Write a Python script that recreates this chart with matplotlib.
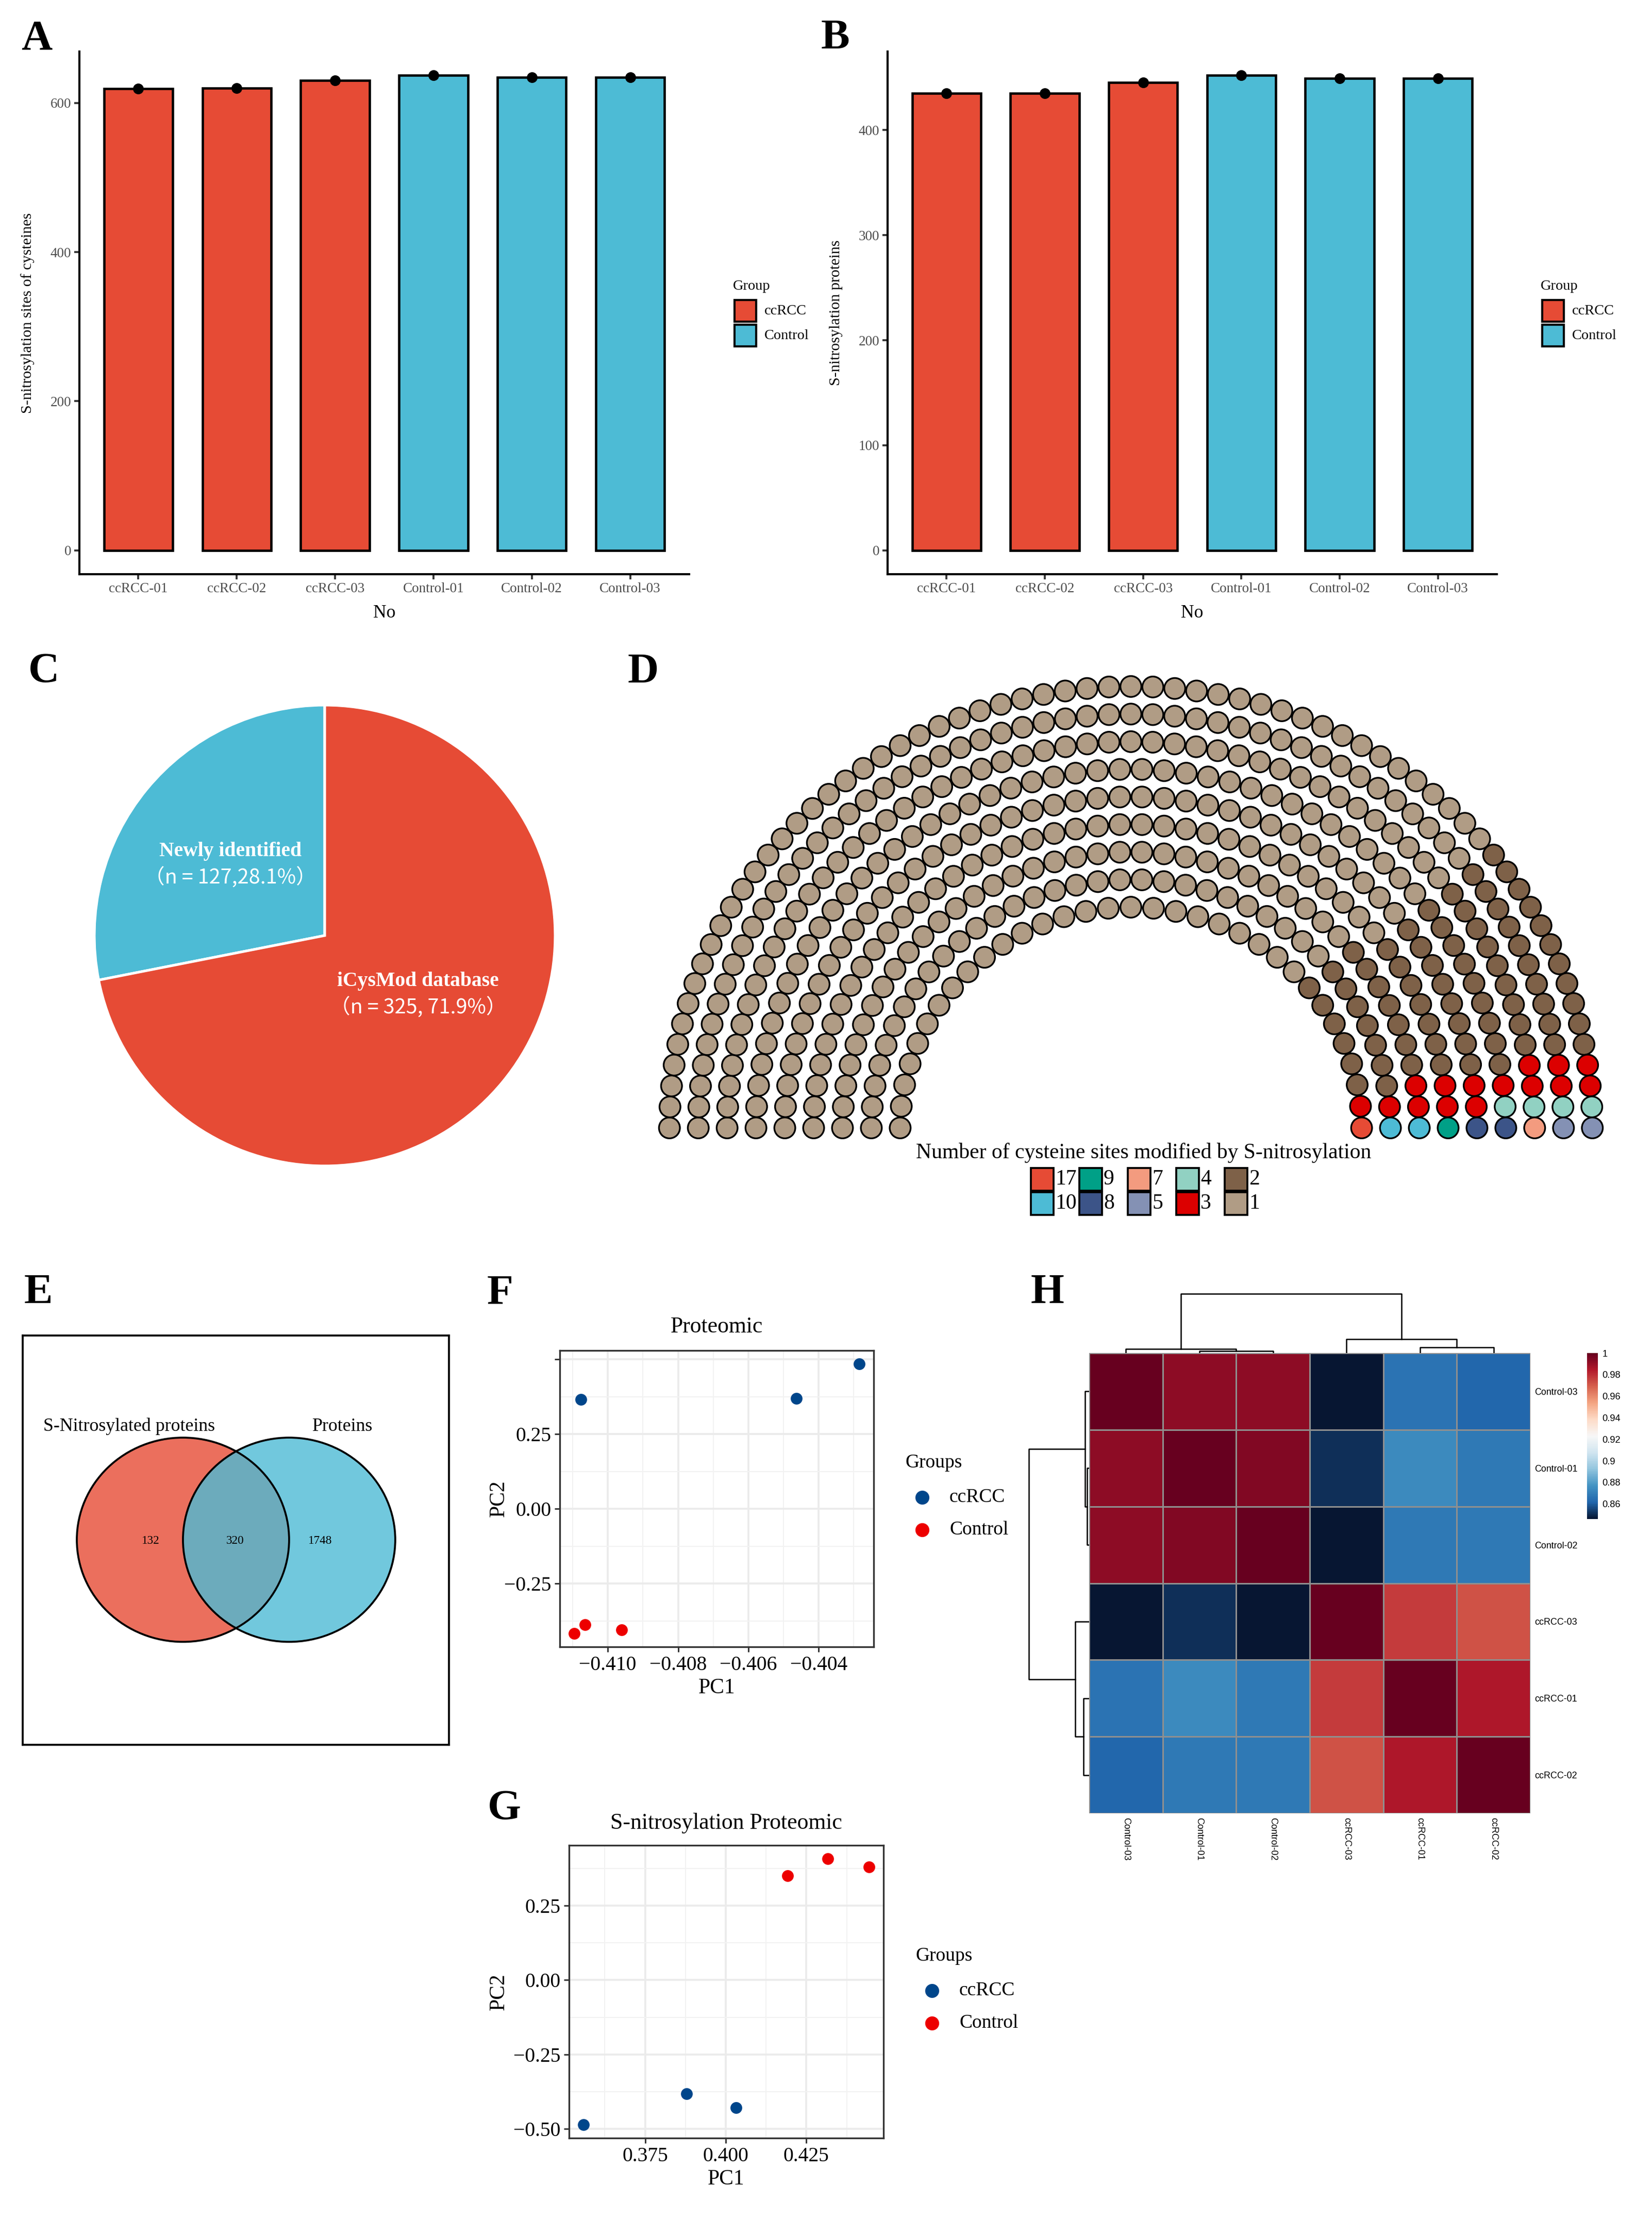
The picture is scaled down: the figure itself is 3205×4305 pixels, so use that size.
#!/usr/bin/python3
# coding: utf-8

# ---- Description ----
""" S-nitrosylation proteomics overview figure (panels A-H) """

# ---- Imports ----
import numpy as np
import matplotlib.pyplot as plt
from matplotlib.patches import Ellipse, Rectangle
from matplotlib.lines import Line2D
from matplotlib.colors import LinearSegmentedColormap

plt.rcParams['font.family'] = ['Liberation Serif', 'DejaVu Sans']

# ---- Data ----
samples = ['ccRCC-01', 'ccRCC-02', 'ccRCC-03', 'Control-01', 'Control-02', 'Control-03']
sample_group = ['ccRCC', 'ccRCC', 'ccRCC', 'Control', 'Control', 'Control']
groups = ['ccRCC', 'Control']
group_colors = {'ccRCC': '#E64B35', 'Control': '#4DBBD5'}
sites_per_sample = [619, 620, 630, 637, 634, 634]
proteins_per_sample = [435, 435, 445, 452, 449, 449]

pie_names = ['Newly identified', 'iCysMod database']
pie_counts = [127, 325]
pie_notes = ['（n = 127,28.1%）', '（n = 325, 71.9%）']
pie_colors = ['#4DBBD5', '#E64B35']

site_levels = ['17', '10', '9', '8', '7', '5', '4', '3', '2', '1']
site_protein_counts = [1, 2, 1, 2, 1, 2, 4, 15, 74, 350]
site_colors = ['#E64B35', '#4DBBD5', '#00A087', '#3C5488', '#F39B7F',
               '#8491B4', '#91D1C2', '#DC0000', '#7E6148', '#B09C85']
parl_rows = 9

venn_names = ['S-Nitrosylated proteins', 'Proteins']
venn_counts = [132, 320, 1748]   # only left, both, only right

pca_groups = ['ccRCC', 'Control']
pca_colors = {'ccRCC': '#00468B', 'Control': '#ED0000'}
prot_pc1 = [-0.41076, -0.40463, -0.40284, -0.41096, -0.41065, -0.40961]
prot_pc2 = [0.366, 0.369, 0.485, -0.417, -0.388, -0.406]
prot_grp = ['ccRCC', 'ccRCC', 'ccRCC', 'Control', 'Control', 'Control']
sno_pc1 = [0.35584, 0.38787, 0.40326, 0.41921, 0.43169, 0.44449]
sno_pc2 = [-0.486, -0.381, -0.428, 0.351, 0.408, 0.380]
sno_grp = ['ccRCC', 'ccRCC', 'ccRCC', 'Control', 'Control', 'Control']

hm_order = ['Control-03', 'Control-01', 'Control-02', 'ccRCC-03', 'ccRCC-01', 'ccRCC-02']
corr_values = [
    [1.000, 0.992, 0.992, 0.846, 0.866, 0.862],
    [0.992, 1.000, 0.994, 0.851, 0.874, 0.868],
    [0.992, 0.994, 1.000, 0.846, 0.868, 0.868],
    [0.846, 0.851, 0.846, 1.000, 0.977, 0.972],
    [0.866, 0.874, 0.868, 0.977, 1.000, 0.985],
    [0.862, 0.868, 0.868, 0.972, 0.985, 1.000],
]
hc_merges = [(1, 2), (0, 6), (4, 5), (3, 8), (7, 9)]
hc_heights = [0.036, 0.072, 0.094, 0.232, 1.0]
cbar_ticks = [0.86, 0.88, 0.9, 0.92, 0.94, 0.96, 0.98, 1]
hm_palette = ['#071632', '#2166AC', '#4393C3', '#92C5DE', '#D1E5F0', '#F7F7F7',
              '#FDDBC7', '#F4A582', '#D6604D', '#B2182B', '#67001F']

# ---- Layout helpers ----
W, H = 3205, 4305
DPI = 300
fig = plt.figure(figsize=(W / DPI, H / DPI), dpi=DPI)


def rect(x0, y0, x1, y1):
    """ pixel box (top-left origin) -> figure fraction box """
    return [x0 / W, 1 - y1 / H, (x1 - x0) / W, (y1 - y0) / H]


def fpos(x, y):
    return x / W, 1 - y / H


def ftext(x, y, s, **kw):
    kw.setdefault('ha', 'center')
    kw.setdefault('va', 'center')
    return fig.text(x / W, 1 - y / H, s, **kw)


def fsquare(xc, yc, w, h, color, lw=1.0):
    fig.add_artist(Rectangle(fpos(xc - w / 2, yc + h / 2), w / W, h / H,
                             transform=fig.transFigure, facecolor=color,
                             edgecolor='black', linewidth=lw))


def fdot(xc, yc, color, size=5.5):
    fig.add_artist(Line2D([xc / W], [1 - yc / H], marker='o', markersize=size,
                          color=color, linestyle='none', transform=fig.transFigure))


# ---- Panel letters ----
for letter, x, y in [('A', 71, 76), ('B', 1620, 74), ('C', 85, 1303), ('D', 1248, 1305),
                     ('E', 74, 2508), ('F', 970, 2510), ('G', 978, 3510), ('H', 2032, 2508)]:
    ftext(x, y, letter, fontsize=20, fontweight='bold')


# ---- A / B: bar charts ----
def bar_panel(box, values, ylabel, yticks, ylab_x, leg_x):
    ax = fig.add_axes(rect(*box))
    pos = np.arange(1, len(samples) + 1)
    cols = [group_colors[g] for g in sample_group]
    ax.bar(pos, values, width=0.7, color=cols, edgecolor='black', linewidth=1.1, zorder=2)
    ax.scatter(pos, values, s=16, color='black', zorder=3)
    top = max(values)
    ax.set_xticks(pos, samples)
    ax.set_yticks(yticks)
    ax.set_ylim(-0.05 * top, 1.05 * top)
    ax.set_xlim(0.4, len(samples) + 0.6)
    ax.spines[['top', 'right']].set_visible(False)
    ax.spines[['left', 'bottom']].set_linewidth(1.0)
    ax.tick_params(length=2.3, width=0.9, color='#333333', labelcolor='#4D4D4D',
                   labelsize=6.5, pad=1.5)
    ftext(ylab_x, (box[1] + box[3]) / 2, ylabel, fontsize=7.2, rotation=90)
    ftext((box[0] + box[2]) / 2, 1190, 'No', fontsize=8.5)
    ftext(leg_x, 555, 'Group', fontsize=6.8, ha='left')
    for g, y in zip(groups, [603, 651]):
        fsquare(leg_x + 24, y, 42, 42, group_colors[g])
        ftext(leg_x + 61, y, g, fontsize=6.8, ha='left')
    return ax


bar_panel((154, 100, 1337, 1114), sites_per_sample, 'S-nitrosylation sites of cysteines',
          [0, 200, 400, 600], 54, 1422)
bar_panel((1722, 100, 2904, 1114), proteins_per_sample, 'S-nitrosylation proteins',
          [0, 100, 200, 300, 400], 1622, 2989)

# ---- C: pie ----
ax_c = fig.add_axes(rect(183, 1368, 1077, 2262))
ax_c.pie(pie_counts, colors=pie_colors, startangle=90, counterclock=True,
         wedgeprops=dict(edgecolor='white', linewidth=1.2))
ax_c.set_xlim(-1, 1)
ax_c.set_ylim(-1, 1)
for name, note, (x, y) in zip(pie_names, pie_notes, [(447, 1651), (811, 1903)]):
    ftext(x, y, name, fontsize=9.5, fontweight='bold', color='white')
    ftext(x, y + 52, note, fontsize=9.5, color='white',
          family=['Noto Sans CJK SC', 'DejaVu Sans'])


# ---- D: parliament plot ----
def parliament_layout(n_seats, rows):
    radii = np.linspace(1, 2, rows)
    pts = []
    left = n_seats
    for i in range(rows):
        cnt = int(np.floor(left * radii[i] / radii[i:].sum() + 0.5))
        for t in np.linspace(0, np.pi, cnt):
            pts.append((radii[i] * np.cos(t), radii[i] * np.sin(t), i, t))
        left -= cnt
    pts.sort(key=lambda p: (-p[3], -p[2]))
    return np.array([(p[0], p[1]) for p in pts])


seats = parliament_layout(sum(site_protein_counts), parl_rows)
seat_colors = []
for col, cnt in zip(reversed(site_colors), reversed(site_protein_counts)):
    seat_colors += [col] * cnt

ax_d = fig.add_axes(rect(1254, 1289, 3134, 2231))
ax_d.scatter(seats[:, 0], seats[:, 1], s=95, c=seat_colors, edgecolors='black', linewidths=0.8)
ax_d.set_xlim(-2.1, 2.1)
ax_d.set_ylim(-0.1, 2.1)
ax_d.axis('off')

ftext(2219, 2237, 'Number of cysteine sites modified by S-nitrosylation', fontsize=10)
for i, (lvl, col) in enumerate(zip(site_levels, site_colors)):
    cx = 2022 + (i // 2) * 94
    cy = 2288 + (i % 2) * 47
    fsquare(cx, cy, 44, 44, col, lw=0.9)
    ftext(cx + 25, cy, lvl, fontsize=10, ha='left')

# ---- E: Venn ----
ax_e = fig.add_axes(rect(44, 2591, 871, 3385))
ax_e.set_xlim(0, 1)
ax_e.set_ylim(0, 1)
ax_e.set_xticks([])
ax_e.set_yticks([])
for s in ax_e.spines.values():
    s.set_linewidth(0.9)
for xc, col in [(0.376, '#E64B35'), (0.625, '#4DBBD5')]:
    ax_e.add_patch(Ellipse((xc, 0.501), 0.498, 0.499, facecolor=col, alpha=0.8, edgecolor='none'))
for xc in [0.376, 0.625]:
    ax_e.add_patch(Ellipse((xc, 0.501), 0.498, 0.499, facecolor='none', edgecolor='black', linewidth=0.9))
for name, x in zip(venn_names, [0.25, 0.75]):
    ax_e.text(x, 0.778, name, ha='center', va='center', fontsize=8.6)
for cnt, x in zip(venn_counts, [0.30, 0.499, 0.698]):
    ax_e.text(x, 0.498, str(cnt), ha='center', va='center', fontsize=5.6)


# ---- F / G: PCA ----
def minus(v, fmt):
    return (fmt % v).replace('-', '\u2212')


def pca_panel(box, pc1, pc2, grp, title, xticks, xfmt, yticks, ylabels, title_y, leg):
    ax = fig.add_axes(rect(*box))
    for g in pca_groups:
        idx = [i for i, gg in enumerate(grp) if gg == g]
        ax.scatter([pc1[i] for i in idx], [pc2[i] for i in idx], s=30,
                   color=pca_colors[g], zorder=3, linewidths=0)
    xr = max(pc1) - min(pc1)
    yr = max(pc2) - min(pc2)
    xlim = (min(pc1) - 0.05 * xr, max(pc1) + 0.05 * xr)
    ylim = (min(pc2) - 0.05 * yr, max(pc2) + 0.05 * yr)
    xs = np.diff(xticks).mean() / 2
    ys = np.diff(yticks).mean() / 2
    xminor = np.arange(xticks[0] - xs, xticks[-1] + 3 * xs, 2 * xs)
    yminor = np.arange(yticks[0] - ys, yticks[-1] + 3 * ys, 2 * ys)
    ax.set_xticks(xticks, [minus(v, xfmt) for v in xticks])
    ax.set_yticks(yticks, ylabels)
    ax.set_xticks(xminor[(xminor > xlim[0]) & (xminor < xlim[1])], minor=True)
    ax.set_yticks(yminor[(yminor > ylim[0]) & (yminor < ylim[1])], minor=True)
    ax.set_xlim(*xlim)
    ax.set_ylim(*ylim)
    ax.grid(which='major', color='#EBEBEB', linewidth=0.9)
    ax.grid(which='minor', color='#F2F2F2', linewidth=0.5)
    ax.set_axisbelow(True)
    for s in ax.spines.values():
        s.set_color('#333333')
        s.set_linewidth(0.8)
    ax.tick_params(which='major', length=2.5, width=0.7, color='#333333', labelsize=9.5, pad=1.5)
    ax.tick_params(which='minor', length=0)
    cx = (box[0] + box[2]) / 2
    ftext(cx, title_y, title, fontsize=10.5)
    ftext(cx, box[3] + 80, 'PC1', fontsize=10)
    ftext(968, (box[1] + box[3]) / 2, 'PC2', fontsize=10, rotation=90)
    lx, ly = leg
    ftext(lx, ly, 'Groups', fontsize=9, ha='left')
    for k, g in enumerate(pca_groups):
        fdot(lx + 32, ly + 67 + 63 * k, pca_colors[g])
        ftext(lx + 85, ly + 67 + 63 * k, g, fontsize=9, ha='left')
    return ax


pca_panel((1086, 2620, 1695, 3195), prot_pc1, prot_pc2, prot_grp, 'Proteomic',
          [-0.410, -0.408, -0.406, -0.404], '%.3f',
          [-0.25, 0.0, 0.25, 0.5], ['\u22120.25', '0.00', '0.25', ''], 2574, (1757, 2838))
pca_panel((1104, 3580, 1714, 4148), sno_pc1, sno_pc2, sno_grp, 'S-nitrosylation Proteomic',
          [0.375, 0.400, 0.425], '%.3f',
          [-0.5, -0.25, 0.0, 0.25], ['\u22120.50', '\u22120.25', '0.00', '0.25'], 3537, (1776, 3795))

# ---- H: correlation heatmap with dendrograms ----
corr = np.array(corr_values)
n = len(hm_order)
hm_cmap = LinearSegmentedColormap.from_list('hm', hm_palette, N=256)
ax_h = fig.add_axes(rect(2113, 2625, 2969, 3518))
mesh = ax_h.pcolormesh(np.arange(n + 1), np.arange(n + 1), corr, cmap=hm_cmap,
                       vmin=corr.min(), vmax=corr.max(), edgecolors='#8f8f8f', linewidth=0.7)
ax_h.set_xlim(0, n)
ax_h.set_ylim(n, 0)
sans = ['Liberation Sans', 'DejaVu Sans']
ax_h.set_xticks(np.arange(n) + 0.5, hm_order, rotation=270, fontsize=4.3, family=sans)
ax_h.set_yticks(np.arange(n) + 0.5, hm_order, fontsize=4.3, family=sans)
ax_h.yaxis.tick_right()
ax_h.tick_params(length=0, pad=2)
for s in ax_h.spines.values():
    s.set_visible(False)


def draw_dendro(ax, orient):
    xs = [i + 0.5 for i in range(n)]
    hs = [0.0] * n
    for (a, b), h in zip(hc_merges, hc_heights):
        px = [xs[a], xs[a], xs[b], xs[b]]
        py = [hs[a], h, h, hs[b]]
        if orient == 'top':
            ax.plot(px, py, color='black', linewidth=0.6)
        else:
            ax.plot(py, px, color='black', linewidth=0.6)
        xs.append((xs[a] + xs[b]) / 2)
        hs.append(h)
    ax.axis('off')


ax_top = fig.add_axes(rect(2113, 2505, 2969, 2625))
draw_dendro(ax_top, 'top')
ax_top.set_xlim(0, n)
ax_top.set_ylim(0, max(hc_heights) * 120 / 115)

ax_left = fig.add_axes(rect(1990, 2625, 2113, 3518))
draw_dendro(ax_left, 'left')
ax_left.set_ylim(n, 0)
ax_left.set_xlim(max(hc_heights) * 123 / 117, 0)

cax = fig.add_axes(rect(3079, 2625, 3100, 2947))
cb = fig.colorbar(mesh, cax=cax)
cb.outline.set_visible(False)
cb.set_ticks(cbar_ticks, labels=[('%g' % t) for t in cbar_ticks])
cax.tick_params(length=0, labelsize=4.4, pad=2)
for lab in cax.get_yticklabels():
    lab.set_family(sans)

fig.savefig('out.png', dpi=DPI, facecolor='white')
